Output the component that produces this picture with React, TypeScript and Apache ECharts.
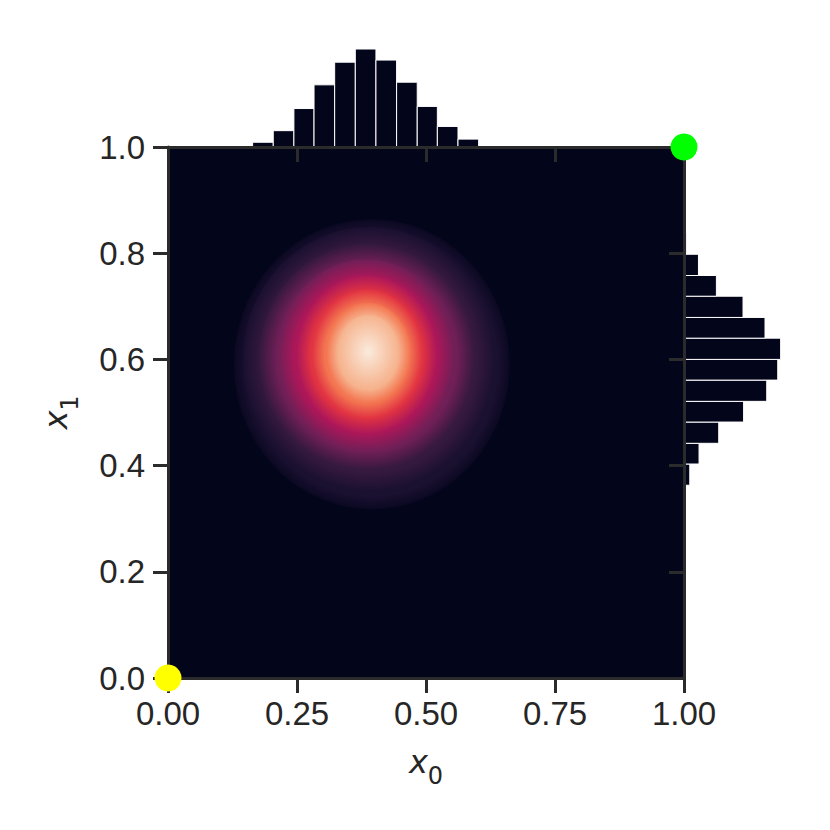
import React, { useEffect, useRef } from "react";
import * as echarts from "echarts";

// ---- Marginal histograms (bin edges in data units, counts) ----
const topBinEdges = [0.164, 0.204, 0.244, 0.283, 0.323, 0.363, 0.403, 0.443, 0.483, 0.522, 0.562, 0.602, 0.642];
const topCounts = [9, 31, 73, 118, 161, 186, 165, 123, 77, 39, 15, 2];
const rightBinEdges = [0.363, 0.403, 0.442, 0.482, 0.521, 0.561, 0.6, 0.64, 0.679, 0.719, 0.758, 0.798, 0.838];
const rightCounts = [10, 26, 60, 103, 143, 162, 167, 140, 102, 56, 25, 4];

// ---- KDE filled contour levels (outer -> inner) ----
const kdeLevels = [0.01, 0.05, 0.143, 0.286, 0.429, 0.571, 0.714, 0.857, 1.0];
const kdeColors = ["#0b0823", "#1a102f", "#35193e", "#701f57", "#ad1759", "#e13342", "#f37651", "#f6b48f", "#faebdd"];
const kdeCenterX = [0.395, 0.39, 0.386, 0.384, 0.385, 0.386, 0.388, 0.388, 0.388];
const kdeCenterY = [0.591, 0.6, 0.604, 0.607, 0.609, 0.61, 0.612, 0.615, 0.617];
const kdeRadiusX = [0.267, 0.244, 0.209, 0.171, 0.136, 0.107, 0.081, 0.058, 0.0];
const kdeRadiusY = [0.273, 0.249, 0.213, 0.181, 0.149, 0.121, 0.094, 0.068, 0.0];

// ---- Corner markers ----
const cornerPoints = [[0, 0], [1, 1]];
const cornerColors = ["#ffff00", "#00ff00"];

const AX = "#2b2b2b";
const TXT = "#262626";
const TICK_FONT = "'Liberation Sans', Arial, sans-serif";

const nameRich = {
  v: { fontFamily: "'DejaVu Sans'", fontStyle: "italic", fontSize: 32, color: TXT, lineHeight: 52 },
  s: { fontFamily: "'DejaVu Sans'", fontSize: 24, color: TXT, lineHeight: 52, verticalAlign: "bottom" },
};

export default function App() {
  const ref = useRef<HTMLDivElement>(null);
  useEffect(() => {
    if (!ref.current) return;
    const chart = echarts.init(ref.current, undefined, { renderer: "svg" });

    const kdeData = kdeLevels.slice(0, kdeLevels.length - 1).map((_, i) => [
      kdeCenterX[i], kdeCenterY[i], kdeRadiusX[i], kdeRadiusY[i], i,
    ]);
    const topData = topCounts.map((c, i) => [topBinEdges[i], topBinEdges[i + 1], c]);
    const rightData = rightCounts.map((c, i) => [c, rightBinEdges[i], rightBinEdges[i + 1]]);

    const hiddenAxis = (gridIndex: number, max: number) => ({
      type: "value", gridIndex, min: 0, max,
      show: false, splitLine: { show: false },
    });

    const option: any = {
      animation: false,
      backgroundColor: "#ffffff",
      grid: [
        { left: 168, top: 147, width: 516, height: 531, show: true, backgroundColor: "#03051a", borderWidth: 0 },
        { left: 168, top: 44, width: 516, height: 103 },
        { left: 684, top: 147, width: 103, height: 531 },
      ],
      xAxis: [
        {
          type: "value", gridIndex: 0, min: 0, max: 1, interval: 0.25, z: 10,
          axisLine: { show: true, lineStyle: { color: AX, width: 3 } },
          axisTick: { show: true, length: 15, lineStyle: { color: AX, width: 3 } },
          axisLabel: {
            show: true, fontSize: 33, color: TXT, fontFamily: TICK_FONT, margin: 19,
            showMinLabel: true, showMaxLabel: true,
            formatter: (v: number) => v.toFixed(2),
          },
          splitLine: { show: false },
          name: "{v|x}{s|0}", nameLocation: "middle", nameGap: 58,
          nameTextStyle: { rich: nameRich },
        },
        {
          type: "value", gridIndex: 1, min: 0, max: 1, interval: 0.25, z: 10, position: "bottom",
          axisLine: { show: true, lineStyle: { color: AX, width: 3 } },
          axisTick: { show: true, length: 15, lineStyle: { color: AX, width: 3 } },
          axisLabel: { show: false },
          splitLine: { show: false },
        },
        hiddenAxis(2, 178),
      ],
      yAxis: [
        {
          type: "value", gridIndex: 0, min: 0, max: 1, interval: 0.2, z: 10,
          axisLine: { show: true, lineStyle: { color: AX, width: 3 } },
          axisTick: { show: true, length: 15, lineStyle: { color: AX, width: 3 } },
          axisLabel: {
            show: true, fontSize: 33, color: TXT, fontFamily: TICK_FONT, margin: 23,
            showMinLabel: true, showMaxLabel: true,
            formatter: (v: number) => v.toFixed(1),
          },
          splitLine: { show: false },
          name: "{v|x}{s|1}", nameLocation: "middle", nameGap: 86,
          nameTextStyle: { rich: nameRich },
        },
        hiddenAxis(1, 195.5),
        {
          type: "value", gridIndex: 2, min: 0, max: 1, interval: 0.2, z: 10, position: "left",
          axisLine: { show: true, lineStyle: { color: AX, width: 3 } },
          axisTick: { show: true, length: 15, lineStyle: { color: AX, width: 3 } },
          axisLabel: { show: false },
          splitLine: { show: false },
        },
      ],
      series: [
        {
          type: "custom",
          xAxisIndex: 0, yAxisIndex: 0,
          data: kdeData,
          silent: true,
          renderItem: (params: any, api: any) => {
            const i = api.value(4);
            const c = api.coord([api.value(0), api.value(1)]);
            const s = api.size([api.value(2), api.value(3)]);
            const k = (kdeRadiusX[i + 1] / kdeRadiusX[i] + kdeRadiusY[i + 1] / kdeRadiusY[i]) / 2;
            return {
              type: "ellipse",
              shape: { cx: c[0], cy: c[1], rx: s[0], ry: s[1] },
              style: {
                fill: new echarts.graphic.RadialGradient(0.5, 0.5, 0.5, [
                  { offset: 0, color: kdeColors[i + 1] },
                  { offset: k, color: kdeColors[i + 1] },
                  { offset: 1, color: kdeColors[i] },
                ]),
              },
            };
          },
        },
        {
          type: "custom",
          xAxisIndex: 1, yAxisIndex: 1,
          data: topData,
          silent: true,
          renderItem: (params: any, api: any) => {
            const p0 = api.coord([api.value(0), 0]);
            const p1 = api.coord([api.value(1), api.value(2)]);
            return {
              type: "rect",
              shape: { x: p0[0], y: p1[1], width: p1[0] - p0[0], height: p0[1] - p1[1] },
              style: { fill: "#03051a", stroke: "#ffffff", lineWidth: 1 },
            };
          },
        },
        {
          type: "custom",
          xAxisIndex: 2, yAxisIndex: 2,
          data: rightData,
          silent: true,
          renderItem: (params: any, api: any) => {
            const p0 = api.coord([0, api.value(1)]);
            const p1 = api.coord([api.value(0), api.value(2)]);
            return {
              type: "rect",
              shape: { x: p0[0], y: p1[1], width: p1[0] - p0[0], height: p0[1] - p1[1] },
              style: { fill: "#03051a", stroke: "#ffffff", lineWidth: 1 },
            };
          },
        },
        {
          type: "scatter",
          xAxisIndex: 0, yAxisIndex: 0,
          z: 20,
          zlevel: 1,
          clip: false,
          silent: true,
          symbolSize: 27,
          data: cornerPoints.map((p, i) => ({ value: p, itemStyle: { color: cornerColors[i], opacity: 1 } })),
        },
      ],
    };
    chart.setOption(option);
    return () => chart.dispose();
  }, []);
  return <div ref={ref} style={{ width: 830, height: 830, position: "absolute", left: 0, top: 0 }} />;
}
